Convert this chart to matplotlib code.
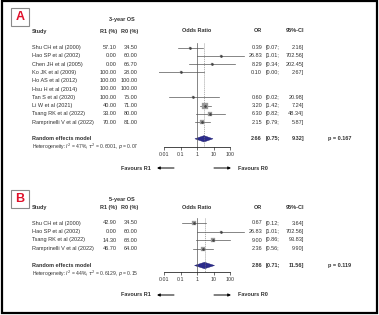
import matplotlib.pyplot as plt
import matplotlib.transforms as mtransforms
from matplotlib.patches import Rectangle
import numpy as np

plt.rcParams['font.family'] = ['Liberation Sans', 'DejaVu Sans']

# 패널 A: 3-year OS
studies_a = ['Shu CH et al (2000)', 'Hao SP et al (2002)', 'Chen JH et al (2005)',
             'Ko JK et al (2009)', 'Ho AS et al (2012)', 'Hsu H et al (2014)',
             'Tan S et al (2020)', 'Li W et al (2021)', 'Tsang RK et al (2022)',
             'Ramprinelli V et al (2022)']
r1_a = ['57.10', '0.00', '0.00', '100.00', '100.00', '100.00', '100.00', '40.00', '33.00', '70.00']
r0_a = ['34.50', '60.00', '66.70', '28.00', '100.00', '100.00', '75.00', '71.00', '80.00', '81.00']
or_a = [0.39, 26.83, 8.29, 0.10, np.nan, np.nan, 0.60, 3.20, 6.30, 2.15]
lo_a = [0.07, 1.01, 0.34, 0.004, np.nan, np.nan, 0.02, 1.42, 0.82, 0.79]
hi_a = [2.16, 702.56, 202.45, 2.67, np.nan, np.nan, 20.98, 7.24, 48.34, 5.87]
wt_a = [6, 3, 3, 3, 0, 0, 3, 24, 10, 14]
pool_a = (2.66, 0.75, 9.32)
p_a = 'p = 0.167'
het_a = 'Heterogeneity: $I^2$ = 47%, $\\tau^2$ = 0.6001, $p$ = 0.07'

# 패널 B: 5-year OS
studies_b = ['Shu CH et al (2000)', 'Hao SP et al (2002)', 'Tsang RK et al (2022)',
             'Ramprinelli V et al (2022)']
r1_b = ['42.90', '0.00', '14.30', '46.70']
r0_b = ['34.50', '60.00', '68.00', '64.00']
or_b = [0.67, 26.83, 9.00, 2.36]
lo_b = [0.12, 1.01, 0.86, 0.56]
hi_b = [3.64, 702.56, 93.83, 9.90]
wt_b = [14, 4, 8, 16]
pool_b = (2.86, 0.71, 11.56)
p_b = 'p = 0.119'
het_b = 'Heterogeneity: $I^2$ = 44%, $\\tau^2$ = 0.6129, $p$ = 0.15'

ticks = [0.01, 0.1, 1, 10, 100]
tick_labels = ['0.01', '0.1', '1', '10', '100']

W, H = 379, 315
fig = plt.figure(figsize=(W / 100, H / 100), dpi=100)
FS = 4.0
TXT = '#333333'

# 열 위치 (px)
X_STUDY, X_R1, X_R0 = 32, 117, 138
X_OR, X_CI_L, X_CI_R, X_P = 262, 266, 304, 328


def fx(px):
    return px / W


def fy(py):
    return 1 - py / H


def panel(letter, title, studies, r1, r0, ors, los, his, wts, pool, pval, het,
          y0, step, top_px, axis_px, one_px, dec_px, box_y, title_y, hdr_y, fav_y):
    n = len(studies)
    pool_i = n + 1
    idx_top = (top_px - y0) / step
    idx_bot = (axis_px - y0) / step
    xmin, xmax = 0.005, 2000
    left = one_px + np.log10(xmin) * dec_px
    width = (np.log10(xmax) - np.log10(xmin)) * dec_px
    ax = fig.add_axes([fx(left), fy(axis_px), width / W, (axis_px - top_px) / H])
    ax.set_xscale('log')
    ax.set_xlim(xmin, xmax)
    ax.set_ylim(idx_bot, idx_top)
    ax.patch.set_visible(False)
    for s in ['top', 'right', 'left']:
        ax.spines[s].set_visible(False)
    ax.spines['bottom'].set_bounds(0.01, 100)
    ax.spines['bottom'].set_linewidth(0.5)
    ax.set_yticks([])
    ax.set_xticks(ticks)
    ax.set_xticklabels(tick_labels)
    ax.minorticks_off()
    ax.tick_params(axis='x', length=2, width=0.5, pad=1.5, labelsize=FS - 0.2, colors=TXT)

    ax.axvline(1, color='#555555', lw=0.5)
    ax.plot([pool[0], pool[0]], [idx_top, idx_bot], color='#777777', lw=0.4, ls=(0, (2, 1.5)))

    for i in range(n):
        if np.isnan(ors[i]):
            continue
        ax.plot([los[i], his[i]], [i, i], color='#555555', lw=0.5)
        ax.plot(ors[i], i, marker='s', ms=1.2 + 0.15 * wts[i], color='#9a9a9a',
                mec='#9a9a9a', mew=0.2)
        ax.plot(ors[i], i, marker='D', ms=0.8, color='#444444')

    est, lo, hi = pool
    ax.fill([lo, est, hi, est], [pool_i, pool_i - 0.38, pool_i, pool_i + 0.38],
            color='#2b2b8c', ec='#1a1a6e', lw=0.3)

    tr = mtransforms.blended_transform_factory(fig.transFigure, ax.transData)
    kw = dict(transform=tr, fontsize=FS, color=TXT, va='center')
    kb = dict(kw, fontweight='bold')

    t_i = (title_y - y0) / step
    h_i = (hdr_y - y0) / step
    ax.text(fx((X_R1 + X_R0) / 2 - 6), t_i, title, ha='center', **kb)
    ax.text(fx(X_STUDY), h_i, 'Study', ha='left', **kb)
    ax.text(fx(X_R1), h_i, 'R1 (%)', ha='right', **kb)
    ax.text(fx(X_R0), h_i, 'R0 (%)', ha='right', **kb)
    ax.text(fx(one_px), h_i, 'Odds Ratio', ha='center', **kb)
    ax.text(fx(X_OR), h_i, 'OR', ha='right', **kb)
    ax.text(fx(X_CI_R), h_i, '95%-CI', ha='right', **kb)

    for i in range(n):
        ax.text(fx(X_STUDY), i, studies[i], ha='left', **kw)
        ax.text(fx(X_R1), i, r1[i], ha='right', **kw)
        ax.text(fx(X_R0), i, r0[i], ha='right', **kw)
        if not np.isnan(ors[i]):
            ax.text(fx(X_OR), i, f'{ors[i]:.2f}', ha='right', **kw)
            ax.text(fx(X_CI_L), i, f'[{los[i]:.2f};', ha='left', **kw)
            ax.text(fx(X_CI_R), i, f'{his[i]:.2f}]', ha='right', **kw)

    ax.text(fx(X_STUDY), pool_i, 'Random effects model', ha='left', **kb)
    ax.text(fx(X_OR), pool_i, f'{est:.2f}', ha='right', **kb)
    ax.text(fx(X_CI_L), pool_i, f'[{lo:.2f};', ha='left', **kb)
    ax.text(fx(X_CI_R), pool_i, f'{hi:.2f}]', ha='right', **kb)
    ax.text(fx(X_P), pool_i, pval, ha='left', **kb)
    ax.text(fx(X_STUDY), pool_i + 1.0, het, ha='left', **dict(kw, fontsize=FS - 0.4))

    # Favours 화살표
    fig.text(fx(151), fy(fav_y), 'Favours R1', ha='right', va='center', fontsize=FS,
             fontweight='bold', color=TXT)
    fig.text(fx(238), fy(fav_y), 'Favours R0', ha='left', va='center', fontsize=FS,
             fontweight='bold', color=TXT)
    ap = dict(arrowstyle='-|>', lw=0.7, color='black', mutation_scale=4, shrinkA=0, shrinkB=0)
    fig.add_artist(plt.Annotation('', xy=(fx(157), fy(fav_y)), xytext=(fx(174), fy(fav_y)),
                                  xycoords='figure fraction', arrowprops=ap))
    fig.add_artist(plt.Annotation('', xy=(fx(231), fy(fav_y)), xytext=(fx(214), fy(fav_y)),
                                  xycoords='figure fraction', arrowprops=ap))

    # 패널 라벨 박스
    fig.patches.append(Rectangle((fx(11), fy(box_y + 18)), 18 / W, 18 / H,
                                 transform=fig.transFigure, fill=False,
                                 ec='#8a8a8a', lw=0.8))
    fig.text(fx(20), fy(box_y + 9.5), letter, ha='center', va='center', fontsize=9,
             fontweight='bold', color='#e0102a')


panel('A', '3-year OS', studies_a, r1_a, r0_a, or_a, lo_a, hi_a, wt_a, pool_a, p_a, het_a,
      y0=47.5, step=8.3, top_px=43, axis_px=147, one_px=197, dec_px=16.5, box_y=8,
      title_y=20, hdr_y=31, fav_y=168)
panel('B', '5-year OS', studies_b, r1_b, r0_b, or_b, lo_b, hi_b, wt_b, pool_b, p_b, het_b,
      y0=223, step=8.5, top_px=218, axis_px=272, one_px=197, dec_px=16.5, box_y=190,
      title_y=199, hdr_y=207.5, fav_y=295)

# 바깥 테두리
fig.patches.append(Rectangle((fx(1.5), fy(313)), 375.5 / W, 312 / H,
                             transform=fig.transFigure, fill=False, ec='black', lw=1.6))

fig.savefig('out.png', dpi=100)
